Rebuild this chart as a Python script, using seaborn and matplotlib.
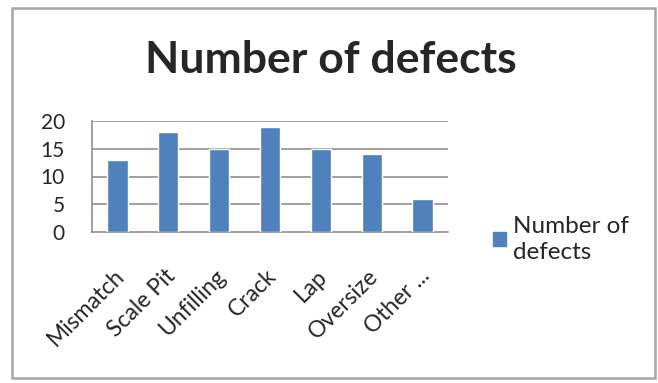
import matplotlib
matplotlib.use("Agg")
import matplotlib.pyplot as plt
import matplotlib.transforms as mtransforms
import seaborn as sns
import pandas as pd
from matplotlib.patches import Rectangle, Patch

categories = ["Mismatch", "Scale Pit", "Unfilling", "Crack", "Lap", "Oversize", "Other ..."]
defects = [13, 18, 15, 19, 15, 14, 6]
yticks = [0, 5, 10, 15, 20]

sns.set_style("white")
plt.rcParams['font.family'] = ['Lato', 'DejaVu Sans']

df = pd.DataFrame({"category": categories, "defects": defects})

fig = plt.figure(figsize=(6.58, 3.83), dpi=100)
ax = fig.add_axes([92/658, 1 - 232/383, (448 - 92)/658, (232 - 121)/383])

# outer chart border
fig.patches.append(Rectangle((12/658, 1 - 378/383), 643/658, 370/383,
                             transform=fig.transFigure, fill=False,
                             edgecolor="#a6a6a6", linewidth=1.8))

sns.barplot(data=df, x="category", y="defects", color="#4f81bd",
            width=0.4, saturation=1, ax=ax, zorder=3)

ax.set_ylim(0, 20)
ax.set_xlim(-0.5, len(categories) - 0.5)
ax.set_yticks(yticks)
ax.set_yticklabels([str(t) for t in yticks], fontsize=15)
for t in yticks[1:]:
    ax.axhline(t, color="#868686", linewidth=1.1, zorder=1)

ax.set_xlabel("")
ax.set_ylabel("")
ax.set_xticks(range(len(categories)))
ax.set_xticklabels(categories, rotation=45, ha="right", va="top",
                   rotation_mode="anchor", fontsize=16.5)
ax.tick_params(axis="x", which="major", length=0, pad=24)
# nudge labels a little left, as in the original
shift = mtransforms.ScaledTranslation(-4/100, 0, fig.dpi_scale_trans)
for lbl in ax.get_xticklabels():
    lbl.set_transform(lbl.get_transform() + shift)
ax.set_xticks([i - 0.5 for i in range(len(categories) + 1)], minor=True)
ax.tick_params(axis="x", which="minor", length=6, width=1, color="#868686", direction="out")
ax.tick_params(axis="y", length=6.5, width=1, color="#868686", direction="out", pad=13)

for s in ["top", "right"]:
    ax.spines[s].set_visible(False)
for s in ["left", "bottom"]:
    ax.spines[s].set_color("#868686")
    ax.spines[s].set_linewidth(1.1)

fig.text(331/658, 1 - 60/383, "Number of defects", ha="center", va="center",
         fontsize=32, fontweight="bold")

leg = fig.legend(handles=[Patch(color="#4f81bd", label="Number of\ndefects")],
                 loc="upper left", bbox_to_anchor=(483/658, 1 - 206/383),
                 frameon=False, fontsize=17.5, handlelength=0.55, handleheight=0.55,
                 handletextpad=0.3, borderaxespad=0)
for t in leg.get_texts():
    t.set_linespacing(1.3)

fig.savefig("out.png", dpi=100)
